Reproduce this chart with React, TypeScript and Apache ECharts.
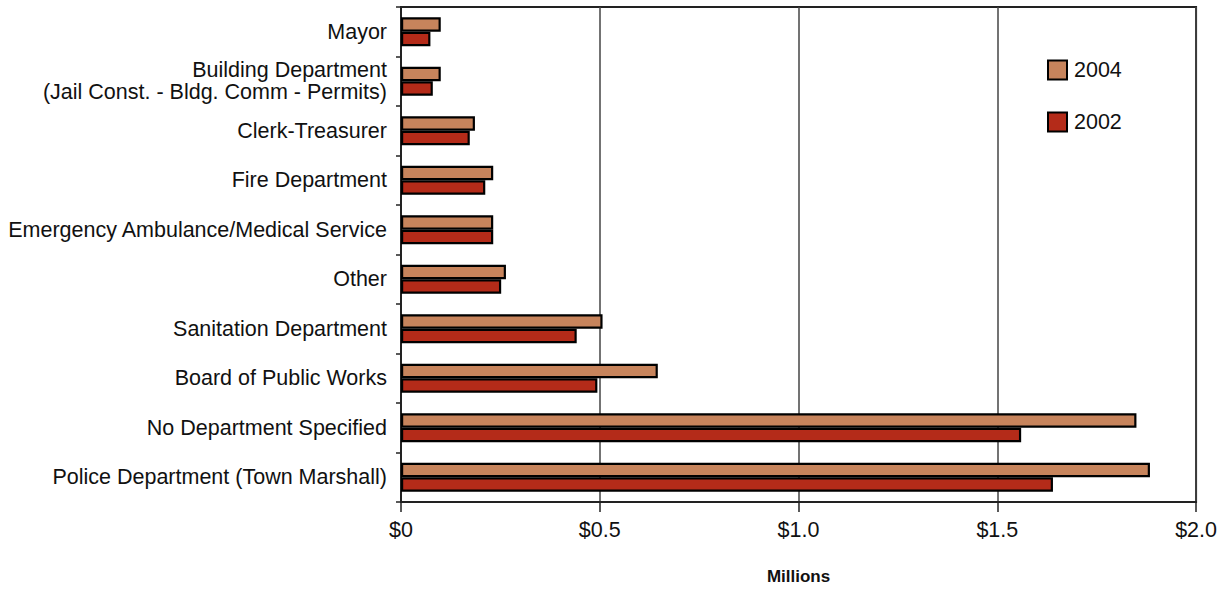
import React, { useEffect, useRef } from "react";
import * as echarts from "echarts";

const categories = [
  "Mayor",
  "Building Department\n(Jail Const. - Bldg. Comm - Permits)",
  "Clerk-Treasurer",
  "Fire Department",
  "Emergency Ambulance/Medical Service",
  "Other",
  "Sanitation Department",
  "Board of Public Works",
  "No Department Specified",
  "Police Department (Town Marshall)",
];
const values2004 = [0.1, 0.1, 0.186, 0.232, 0.232, 0.264, 0.507, 0.646, 1.85, 1.884];
const values2002 = [0.074, 0.08, 0.173, 0.212, 0.232, 0.252, 0.442, 0.494, 1.56, 1.64];
const tickLabels: Record<string, string> = { "0": "$0", "0.5": "$0.5", "1": "$1.0", "1.5": "$1.5", "2": "$2.0" };

const FONT = "'Liberation Sans', Arial, sans-serif";
const FS = 21.5;

export default function App() {
  const ref = useRef<HTMLDivElement>(null);
  useEffect(() => {
    if (!ref.current) return;
    const chart = echarts.init(ref.current, undefined, { renderer: "svg" });
    chart.setOption({
      animation: false,
      backgroundColor: "#fff",
      textStyle: { fontFamily: FONT },
      grid: {
        left: 401,
        right: 21,
        top: 7,
        height: 495,
        show: true,
        borderColor: "#222",
        borderWidth: 2,
        backgroundColor: "transparent",
      },
      legend: {
        orient: "vertical",
        left: 1042,
        top: 54,
        itemWidth: 19,
        itemHeight: 19,
        itemGap: 30,
        icon: "rect",
        data: ["2004", "2002"],
        textStyle: { fontSize: FS, color: "#111", fontFamily: FONT, padding: [0, 0, 0, 2] },
      },
      xAxis: {
        type: "value",
        min: 0,
        max: 2,
        interval: 0.5,
        name: "Millions",
        nameLocation: "middle",
        nameGap: 66,
        nameTextStyle: { fontSize: 17, fontWeight: "bold", color: "#111", fontFamily: FONT, verticalAlign: "top" },
        axisLine: { show: true, lineStyle: { color: "#222", width: 2 } },
        axisTick: { show: true, length: 10, lineStyle: { color: "#222", width: 1.5 } },
        axisLabel: {
          fontSize: FS,
          color: "#111",
          margin: 17,
          fontFamily: FONT,
          formatter: (v: number) => tickLabels[String(v)] ?? "",
        },
        splitLine: { show: true, lineStyle: { color: "#444", width: 1.5 } },
      },
      yAxis: {
        type: "category",
        data: categories,
        inverse: true,
        axisLine: { show: true, lineStyle: { color: "#222", width: 2 } },
        axisTick: { show: true, length: 5, lineStyle: { color: "#222", width: 1.5 } },
        axisLabel: {
          fontSize: FS,
          color: "#111",
          margin: 14,
          lineHeight: 22,
          align: "right",
          fontFamily: FONT,
        },
      },
      series: [
        {
          name: "2004",
          type: "bar",
          data: values2004,
          barWidth: 14.5,
          barGap: "0%",
          itemStyle: { color: "#C7845C", borderColor: "#000", borderWidth: 2.2 },
        },
        {
          name: "2002",
          type: "bar",
          data: values2002,
          barWidth: 14.5,
          barGap: "0%",
          itemStyle: { color: "#B42B19", borderColor: "#000", borderWidth: 2.2 },
        },
      ],
    });
    return () => chart.dispose();
  }, []);
  return (
    <div
      ref={ref}
      style={{ position: "fixed", left: 0, top: 0, width: 1220, height: 590, background: "#fff" }}
    />
  );
}
